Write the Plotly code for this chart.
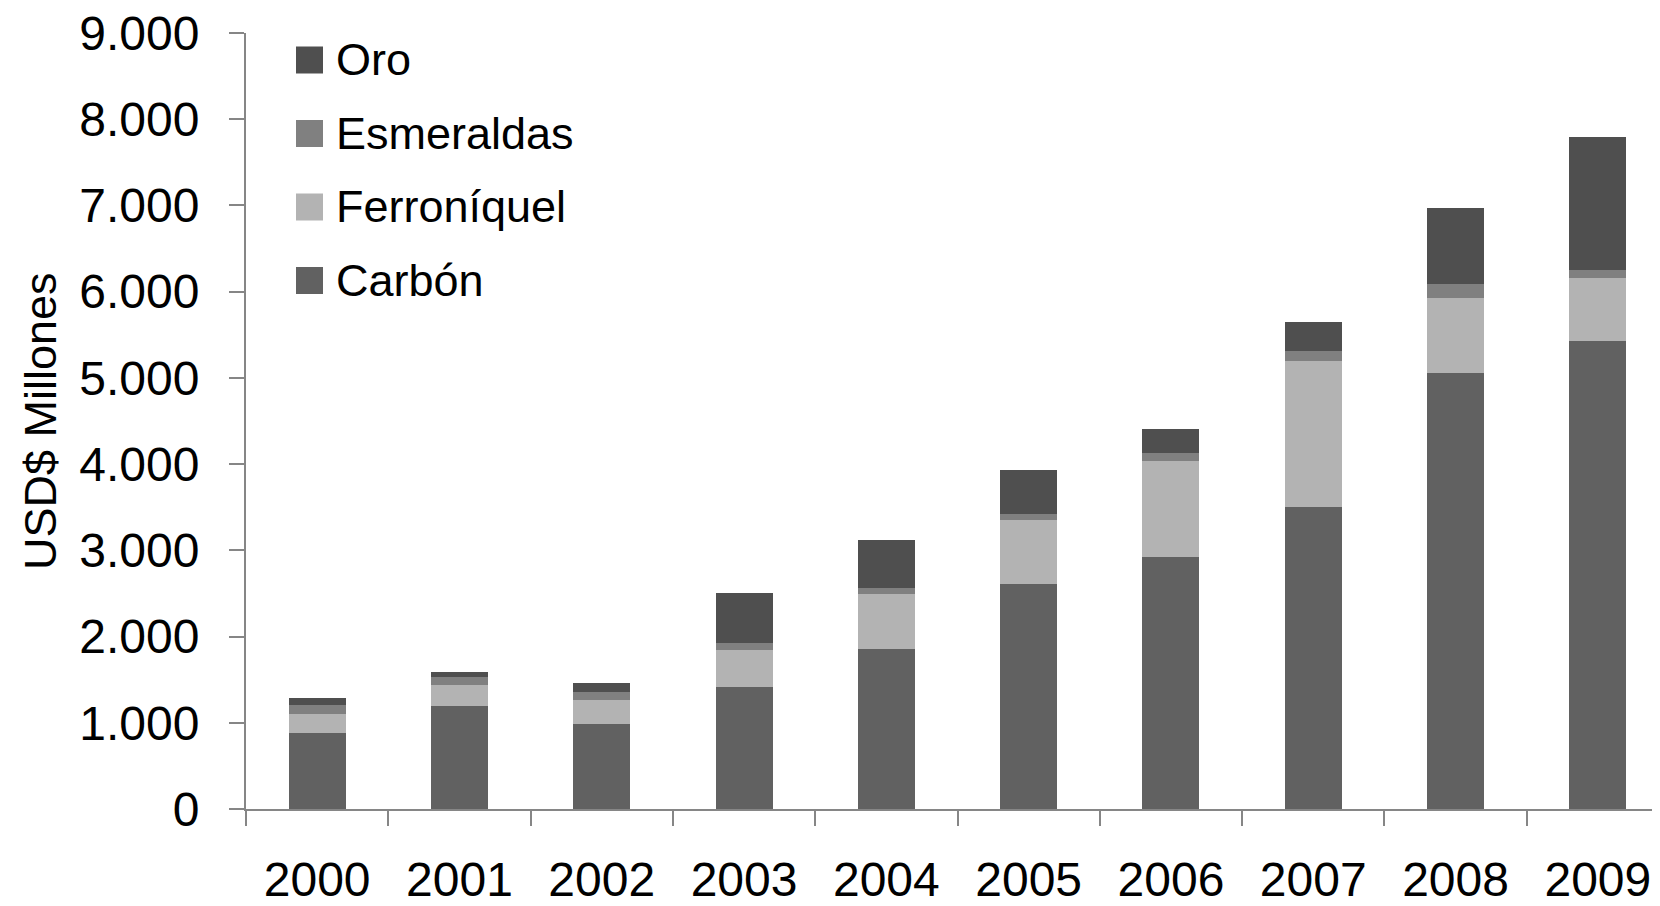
import plotly.graph_objects as go

years = ["2000", "2001", "2002", "2003", "2004", "2005", "2006", "2007", "2008", "2009"]
carbon = [885, 1192, 983, 1418, 1854, 2604, 2919, 3506, 5056, 5432]
ferroniquel = [214, 245, 279, 426, 634, 746, 1119, 1686, 867, 731]
esmeraldas = [105, 89, 93, 78, 78, 70, 89, 124, 163, 86]
oro = [85, 62, 105, 587, 556, 513, 280, 336, 886, 1540]
y_ticks = [0, 1000, 2000, 3000, 4000, 5000, 6000, 7000, 8000, 9000]

names = ["Carbón", "Ferroníquel", "Esmeraldas", "Oro"]
colors = ["#616161", "#b3b3b3", "#808080", "#4f4f4f"]
values = [carbon, ferroniquel, esmeraldas, oro]

FONT = "Liberation Sans"
AXIS = "#868686"
OFF = 8  # page body margin
W, H = 1660 - OFF, 906 - OFF
L, R, T = 246 - OFF, 0, 33 - OFF
BOTTOM_Y = 809 - OFF
B = H - BOTTOM_Y
PW, PH = W - L - R, H - T - B

def px(x):
    return (x - OFF - L) / PW

def py(y):
    return (BOTTOM_Y - (y - OFF)) / PH

fig = go.Figure()
for name, vals, col in zip(names, values, colors):
    fig.add_trace(go.Bar(x=years, y=vals, name=name, width=0.4, showlegend=False,
                         marker=dict(color=col, line=dict(width=0))))

# manual legend (large square swatches like the reference)
legend_rows_y = [60, 133.5, 207, 280.5]
for i, (name, col) in enumerate(zip(names[::-1], colors[::-1])):
    cy = legend_rows_y[i]
    fig.add_shape(type="rect", xref="paper", yref="paper",
                  x0=px(296), x1=px(323), y0=py(cy - 13.5), y1=py(cy + 13.5),
                  fillcolor=col, line=dict(width=0))
    fig.add_annotation(text=name, xref="paper", yref="paper",
                       x=px(334), y=py(cy),
                       xanchor="left", yanchor="middle", showarrow=False,
                       font=dict(size=45))

fig.update_layout(
    width=W, height=H,
    barmode="stack",
    separators=",.",
    plot_bgcolor="white", paper_bgcolor="white",
    margin=dict(l=L, r=R, t=T, b=B, autoexpand=False),
    font=dict(family=FONT, size=44, color="#000000"),
    showlegend=False,
)
fig.update_xaxes(
    type="category", range=[-0.5, -0.5 + PW / 142.3], automargin=False,
    showline=True, linecolor=AXIS, linewidth=2,
    ticks="outside", ticklen=15, tickwidth=2, tickcolor=AXIS,
    tickson="boundaries", ticklabelstandoff=27, ticklabeloverflow="allow",
    tickfont=dict(size=48), showgrid=False, zeroline=False,
)
fig.update_yaxes(
    range=[0, 9000], tickvals=y_ticks, tickformat=",", automargin=False,
    showline=True, linecolor=AXIS, linewidth=2,
    ticks="outside", ticklen=15, tickwidth=2, tickcolor=AXIS,
    ticklabelstandoff=20, ticklabeloverflow="allow",
    tickfont=dict(size=48), showgrid=False, zeroline=False,
)
fig.add_annotation(text="USD$ Millones", textangle=-90,
                   xref="paper", yref="paper", x=px(40), y=py(421),
                   xanchor="center", yanchor="middle", showarrow=False,
                   font=dict(size=45))
fig.write_html("out.html")
